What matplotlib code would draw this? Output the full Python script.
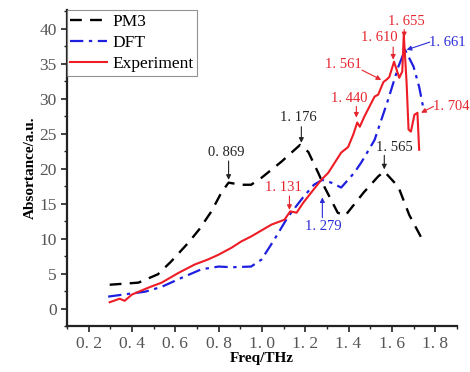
import matplotlib
matplotlib.use("Agg")
import matplotlib.pyplot as plt
from matplotlib.ticker import MultipleLocator, FuncFormatter

# ---- data ----
pm3_x = [0.297, 0.43, 0.52, 0.58, 0.66, 0.71, 0.767, 0.813, 0.846, 0.905, 0.95,
         0.998, 1.09, 1.176, 1.214, 1.26, 1.29, 1.35, 1.385, 1.47, 1.537, 1.565,
         1.63, 1.68, 1.745]
pm3_y = [3.4, 3.7, 4.9, 6.7, 9.4, 11.3, 13.9, 16.6, 18.0, 17.7, 17.7,
         18.7, 21.0, 23.4, 22.4, 19.4, 17.3, 13.7, 13.3, 16.6, 18.9, 19.6,
         17.4, 13.4, 9.6]

dft_x = [0.29, 0.385, 0.46, 0.537, 0.63, 0.72, 0.80, 0.86, 0.95, 0.998, 1.058,
         1.12, 1.19, 1.24, 1.279, 1.32, 1.366, 1.426, 1.459, 1.52, 1.583, 1.63,
         1.661, 1.70, 1.726, 1.745]
dft_y = [1.7, 2.1, 2.4, 3.1, 4.4, 5.6, 6.0, 5.9, 6.0, 7.0, 9.9,
         13.1, 15.9, 17.7, 18.4, 18.0, 17.3, 19.4, 20.9, 24.1, 29.9, 34.6,
         37.0, 34.6, 31.7, 28.7]

exp_x = [0.297, 0.343, 0.366, 0.40, 0.477, 0.537, 0.615, 0.69, 0.75, 0.80, 0.86,
         0.905, 0.95, 1.044, 1.104, 1.131, 1.16, 1.19, 1.228, 1.274, 1.306, 1.366,
         1.398, 1.422, 1.440, 1.452, 1.472, 1.505, 1.52, 1.537, 1.561, 1.574,
         1.588, 1.610, 1.634, 1.648, 1.655, 1.668, 1.677, 1.688, 1.704, 1.718,
         1.726]
exp_y = [0.9, 1.4, 1.1, 2.0, 3.0, 3.7, 5.1, 6.3, 7.0, 7.7, 8.7,
         9.6, 10.3, 12.0, 12.7, 13.9, 13.7, 15.1, 16.6, 18.4, 19.4, 22.3,
         23.1, 24.9, 26.6, 26.0, 27.4, 29.4, 30.3, 30.6, 32.4, 32.7,
         33.1, 35.3, 33.0, 33.9, 39.2, 32.3, 25.6, 25.3, 27.7, 28.0,
         22.7]

series_names = ["PM3", "DFT", "Experiment"]

# annotations: (label, text_x, text_y, arrow_start_x, arrow_start_y, tip_x, tip_y, color)
annots = [
    ("0. 869", 0.836, 22.3, 0.846, 21.1, 0.846, 18.4, "black"),
    ("1. 176", 1.168, 27.3, 1.182, 26.0, 1.182, 23.7, "black"),
    ("1. 131", 1.100, 17.3, 1.127, 16.1, 1.127, 14.1, "red"),
    ("1. 279", 1.283, 11.7, 1.279, 13.0, 1.279, 15.9, "blue"),
    ("1. 565", 1.610, 23.1, 1.565, 21.9, 1.565, 19.9, "black"),
    ("1. 440", 1.403, 30.1, 1.436, 28.9, 1.436, 27.3, "red"),
    ("1. 561", 1.376, 34.9, 1.462, 34.1, 1.551, 32.7, "red"),
    ("1. 610", 1.542, 38.7, 1.606, 37.4, 1.606, 35.6, "red"),
    ("1. 655", 1.666, 41.0, 1.657, 39.9, 1.657, 38.8, "red"),
    ("1. 661", 1.858, 38.1, 1.775, 38.1, 1.668, 37.0, "blue"),
    ("1. 704", 1.872, 28.9, 1.792, 28.9, 1.735, 28.0, "red"),
]

RED = "#ee1c25"
BLUE = "#1f1fe0"
TXT = {"black": "#222222", "red": "#e5262e", "blue": "#2b2bd6"}

plt.rcParams["font.family"] = ["Liberation Serif", "DejaVu Serif"]

fig = plt.figure(figsize=(4.70, 3.72), dpi=100)
ax = fig.add_axes([0.1426, 0.1237, 0.8294, 0.8495])

ax.plot(pm3_x, pm3_y, color="black", lw=1.7, dashes=(5, 3.5), label=series_names[0])
ax.plot(dft_x, dft_y, color=BLUE, lw=1.6, dashes=(6, 2.5, 1.5, 2.5), label=series_names[1])
ax.plot(exp_x, exp_y, color=RED, lw=1.5, label=series_names[2])

for lab, tx, ty, sx, sy, hx, hy, c in annots:
    ax.text(tx, ty, lab, color=TXT[c], fontsize=10.5, ha="center", va="center")
    ax.annotate("", xy=(hx, hy), xytext=(sx, sy),
                arrowprops=dict(arrowstyle="-|>", color=TXT[c], lw=0.8,
                                mutation_scale=7, shrinkA=0, shrinkB=0))

ax.set_xlim(0.1, 1.9)
ax.set_ylim(-2.5, 42.7)
ax.xaxis.set_major_locator(MultipleLocator(0.2))
ax.xaxis.set_minor_locator(MultipleLocator(0.1))
ax.yaxis.set_major_locator(MultipleLocator(5))
ax.yaxis.set_minor_locator(MultipleLocator(2.5))
ax.xaxis.set_major_formatter(FuncFormatter(lambda v, p: f"{v:.1f}".replace(".", ". ")))
ax.yaxis.set_major_formatter(FuncFormatter(lambda v, p: f"{v:.0f}"))

for s in ["top", "right"]:
    ax.spines[s].set_visible(False)
for s in ["left", "bottom"]:
    ax.spines[s].set_linewidth(1.6)
    ax.spines[s].set_color("#222222")

ax.tick_params(axis="both", which="major", direction="out", length=4, width=1.2,
               labelsize=12.5, colors="#222222")
ax.tick_params(axis="both", which="minor", direction="out", length=2.5, width=1.0,
               colors="#222222")
for lbl in ax.get_xticklabels() + ax.get_yticklabels():
    lbl.set_color("#555555")

ax.set_xlabel("Freq/THz", fontsize=11, fontweight="bold", labelpad=0)
ax.set_ylabel("Absortance/a.u.", fontsize=11, fontweight="bold", labelpad=2)

leg = ax.legend(loc="upper left", bbox_to_anchor=(0.0, 1.0), borderaxespad=0.0,
                fontsize=12.5, frameon=True, fancybox=False, handlelength=2.1,
                handletextpad=0.3, borderpad=0.2, labelspacing=0.3)
leg.get_frame().set_edgecolor("#777777")
leg.get_frame().set_linewidth(0.8)

fig.savefig("out.png", dpi=100)
